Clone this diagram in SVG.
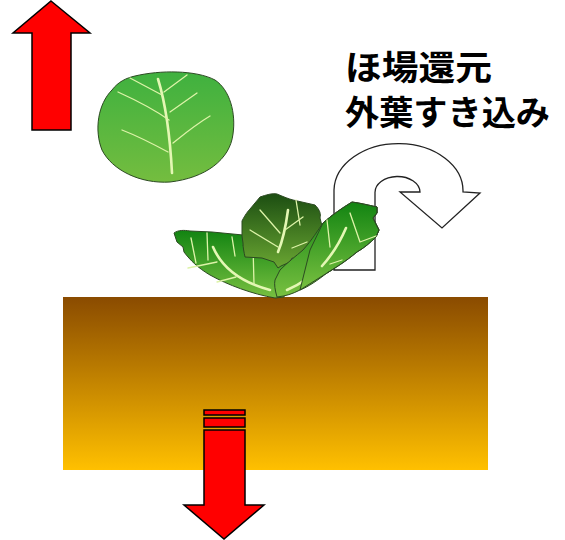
<svg xmlns="http://www.w3.org/2000/svg" width="565" height="540" viewBox="0 0 565 540">
  <defs>
    <linearGradient id="soilGrad" x1="0" y1="0" x2="0" y2="1">
      <stop offset="0" stop-color="#8A4B00"/>
      <stop offset="1" stop-color="#FFC000"/>
    </linearGradient>
    <linearGradient id="headGrad" x1="0" y1="0" x2="0" y2="1">
      <stop offset="0" stop-color="#3FB13F"/>
      <stop offset="1" stop-color="#74BD3F"/>
    </linearGradient>
    <linearGradient id="leafGrad" x1="0" y1="0" x2="0" y2="1">
      <stop offset="0" stop-color="#128412"/>
      <stop offset="1" stop-color="#78C040"/>
    </linearGradient>
    <linearGradient id="innerLeafGrad" x1="0" y1="0" x2="0" y2="1">
      <stop offset="0" stop-color="#1C4E12"/>
      <stop offset="1" stop-color="#6AA632"/>
    </linearGradient>
    <style>
      .arrow { fill: #FF0000; stroke: #000; stroke-width: 1.5; stroke-linejoin: miter; }
      .leaf { stroke: #2C4A22; stroke-width: 1; stroke-linejoin: round; }
      .vein { fill: none; stroke: #DDF3A8; stroke-width: 1.3; stroke-linecap: round; }
      .midrib { fill: none; stroke: #E4F7B4; stroke-width: 2.6; stroke-linecap: round; }
      .label { font-family: "Noto Sans CJK JP", "Noto Sans", sans-serif; font-weight: bold; font-size: 34px; fill: #000; }
    </style>
  </defs>

  <!-- soil -->
  <g id="soil">
    <rect x="63" y="297" width="425" height="173" fill="url(#soilGrad)"/>
  </g>

  <!-- upward arrow -->
  <g id="arrow-up">
    <polygon class="arrow" points="51,1 90,33 71,33 71,130 32,130 32,33 13,33"/>
  </g>

  <!-- cabbage head -->
  <g id="cabbage">
    <path class="leaf" fill="url(#headGrad)" stroke="#333" d="M135,76 C160,70 196,70 215,80 C230,90 236,113 233,134 C230,160 205,178 170,182 C140,184 112,170 102,150 C94,130 98,104 112,90 C118,82 126,78 135,76 Z"/>
    <path class="midrib" d="M158,79 C166,105 170,135 172,173"/>
    <path class="vein" d="M130,78 L162,95 M187,75 L164,92 M118,92 C140,102 155,110 169,120 M197,93 L170,112 M122,130 C140,137 155,145 168,152 M210,116 C195,125 183,135 173,143"/>
  </g>

  <!-- leaves on the field -->
  <g id="leaves">
    <!-- left outer leaf -->
    <path class="leaf" fill="url(#leafGrad)" d="M174,233 C178,230 184,230 190,231 L212,232 L243,235 L246,239 L243,246 L262,250 L290,262 L284,297 L275,298 C252,294 228,285 210,275 C198,268 190,260 184,252 L183,247 L177,242 Z"/>
    <path class="midrib" d="M213,247 C222,268 240,282 270,290"/>
    <path class="vein" d="M191,238 L196,263 M207,233 L208,260 M232,237 L235,256 M188,268 L217,262 M217,282 L236,277 M253,246 L254,284"/>

    <!-- inner leaf -->
    <path class="leaf" fill="url(#innerLeafGrad)" d="M260,197 C266,195 272,193 277,194 C284,197 289,199 293,200 L315,205 C320,210 321,214 320,218 L323,230 L318,254 L300,260 L292,258 L290,262 L281,266 L278,268 L274,262 L262,258 L245,257 C244,252 243,248 243,243 L242,236 L242,221 C245,215 248,211 250,209 Z"/>
    <path class="midrib" d="M288,210 C286,225 283,240 278,252"/>
    <path class="vein" d="M260,210 L280,233 M303,217 L285,230 M250,230 L278,247 M307,242 L292,248 M296,200 L300,225"/>

    <!-- right outer leaf -->
    <path class="leaf" fill="url(#leafGrad)" d="M277,297 C275,290 274,284 275,280 L280,270 C288,262 296,256 303,250 C312,240 318,230 323,223 C332,215 342,208 352,202 C360,203 368,205 377,207 L377,213 L373,218 L379,230 L376,237 C370,243 364,248 357,252 C345,262 335,268 327,273 C318,280 308,287 300,290 C292,294 286,296 277,297 Z"/>
    <path class="midrib" d="M346,228 C335,255 315,278 287,290"/>
    <path class="vein" d="M327,220 L330,247 M350,213 L360,242 M307,270 L342,260 M360,242 L376,236"/>
  </g>

  <!-- U-turn arrow: outer leaves returned to the field -->
  <g id="arrow-return">
    <path d="M334,270 L334,190 A64,47 0 0 1 463,192 L480,193 L442,228 L400,192 L420,192 A22.5,16 0 0 0 375,193 L375,270 Z" fill="#FFFFFF" stroke="#222" stroke-width="1.3" stroke-linejoin="miter"/>
  </g>

  <!-- redraw right leaf tip over the U-turn arrow -->
  <g id="leaf-front">
    <path class="leaf" fill="url(#leafGrad)" d="M323,223 C332,215 342,208 352,202 C360,203 368,205 377,207 L377,213 L373,218 L379,230 L376,237 C370,243 364,248 357,252 C345,262 335,268 327,273 L300,290 L310,250 Z" stroke="none"/>
    <path class="leaf" fill="none" d="M323,223 C332,215 342,208 352,202 C360,203 368,205 377,207 L377,213 L373,218 L379,230 L376,237 C370,243 364,248 357,252 C345,262 335,268 327,273"/>
    <path class="midrib" d="M346,228 C340,242 332,255 322,266"/>
    <path class="vein" d="M327,220 L330,247 M350,213 L360,242 M360,242 L376,236 M330,264 L342,260"/>
  </g>

  <!-- downward arrow into the soil -->
  <g id="arrow-down">
    <rect class="arrow" x="204" y="410" width="41" height="5"/>
    <rect class="arrow" x="204" y="418" width="41" height="9"/>
    <polygon class="arrow" points="204,430 245,430 245,505 264,505 224,539 184,505 204,505"/>
  </g>

  <!-- labels -->
  <g id="label">
    <text class="label" x="345" y="80" textLength="147" lengthAdjust="spacingAndGlyphs">ほ場還元</text>
    <text class="label" x="345" y="125" textLength="205" lengthAdjust="spacingAndGlyphs">外葉すき込み</text>
  </g>
</svg>
